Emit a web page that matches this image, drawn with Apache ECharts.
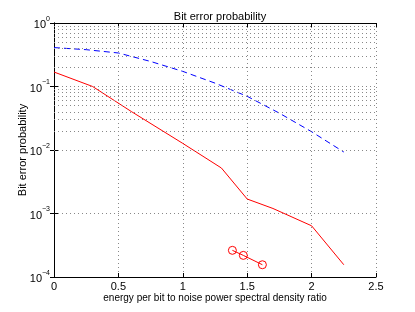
<!DOCTYPE html>
<html>
<head>
<meta charset="utf-8">
<script src="https://cdn.jsdelivr.net/npm/echarts@6/dist/echarts.min.js"></script>
<style>html,body{margin:0;padding:0;background:#fff}#c{width:415px;height:312px}</style>
</head>
<body>
<div id="c"></div>
<script>
const xRed = [0, 0.3, 0.6, 1.0, 1.3, 1.5, 1.7, 2.0, 2.25];
const yRed = [0.169, 0.1, 0.0404, 0.0127, 0.0052, 0.00169, 0.0012, 0.00064, 0.000156];
const xBlue = [0, 0.25, 0.5, 0.75, 1.0, 1.25, 1.5, 1.75, 2.0, 2.25];
const yBlue = [0.41, 0.38, 0.337, 0.248, 0.173, 0.113, 0.070, 0.038, 0.0194, 0.0093];
const xCirc = [1.385, 1.47, 1.618];
const yCirc = [0.000263, 0.000219, 0.000156];
const minorY = [];
for (let e = -4; e < 0; e++) for (let m = 2; m <= 9; m++) minorY.push(m * Math.pow(10, e));

const font = 'Liberation Sans, Arial, sans-serif';
const dotted = { color: '#888', width: 1, type: [1, 3] };
const zip = (a, b) => a.map((v, i) => [v, b[i]]);

const chart = echarts.init(document.getElementById('c'), null, { renderer: 'canvas' });
const expFmt = v => {
  const e = Math.round(Math.log10(v));
  return '{b|10}{s|' + (e < 0 ? '\u2212' + (-e) : e) + '}';
};
chart.setOption({
  animation: false,
  backgroundColor: '#fff',
  title: {
    text: 'Bit error probability', left: 215, top: 6, textAlign: 'center',
    textStyle: { fontFamily: font, fontSize: 11, fontWeight: 'normal', color: '#000' }
  },
  grid: { left: 54, right: 39, top: 23, bottom: 35 },
  xAxis: [{
    type: 'value', min: 0, max: 2.5, interval: 0.5, position: 'bottom',
    name: 'energy per bit to noise power spectral density ratio',
    nameLocation: 'middle', nameGap: 16, nameMoveOverlap: false,
    nameTextStyle: { fontFamily: font, fontSize: 10, color: '#000' },
    axisLine: { show: true, lineStyle: { color: '#000', width: 1 } },
    axisTick: { show: true, inside: true, length: 4, lineStyle: { color: '#000' } },
    axisLabel: { fontFamily: font, fontSize: 11, color: '#000', margin: 4,
      formatter: v => String(v) },
    splitLine: { show: true, lineStyle: dotted }
  }, {
    type: 'value', min: 0, max: 2.5, interval: 0.5, position: 'top',
    axisLine: { show: true, lineStyle: { color: '#000', width: 1 } },
    axisTick: { show: true, inside: true, length: 4, lineStyle: { color: '#000' } },
    axisLabel: { show: false }, splitLine: { show: false }
  }],
  yAxis: [{
    type: 'log', logBase: 10, min: 1e-4, max: 1, position: 'left',
    name: 'Bit error probability', nameLocation: 'middle', nameGap: 26, nameMoveOverlap: false,
    nameTextStyle: { fontFamily: font, fontSize: 11, color: '#000' },
    axisLine: { show: true, lineStyle: { color: '#000', width: 1 } },
    axisTick: { show: true, inside: true, length: 4, lineStyle: { color: '#000' } },
    axisLabel: {
      color: '#000', margin: 4, formatter: expFmt,
      rich: {
        b: { fontFamily: font, fontSize: 11, color: '#000', verticalAlign: 'bottom' },
        s: { fontFamily: font, fontSize: 7, color: '#000', verticalAlign: 'top', padding: [0, 0, 8, 0] }
      }
    },
    splitLine: { show: true, lineStyle: dotted }
  }, {
    type: 'log', logBase: 10, min: 1e-4, max: 1, position: 'right',
    axisLine: { show: true, lineStyle: { color: '#000', width: 1 } },
    axisTick: { show: true, inside: true, length: 4, lineStyle: { color: '#000' } },
    axisLabel: { show: false }, splitLine: { show: false }
  }],
  series: [{
    type: 'line', data: [], xAxisIndex: 0, yAxisIndex: 0, silent: true,
    markLine: {
      silent: true, symbol: 'none', label: { show: false },
      lineStyle: dotted,
      data: minorY.map(v => ({ yAxis: v }))
    }
  }, {
    type: 'line', data: zip(xBlue, yBlue), showSymbol: false, symbol: 'none',
    lineStyle: { color: '#0000ff', width: 1, type: [6, 4] }
  }, {
    type: 'line', data: zip(xRed, yRed), showSymbol: false, symbol: 'none',
    lineStyle: { color: '#ff0000', width: 1 }
  }, {
    type: 'line', data: zip(xCirc, yCirc), symbol: 'circle', symbolSize: 8, showSymbol: true,
    itemStyle: { color: 'transparent', borderColor: '#ff0000', borderWidth: 1 },
    lineStyle: { color: '#ff0000', width: 1 }
  }]
});
</script>
</body>
</html>
